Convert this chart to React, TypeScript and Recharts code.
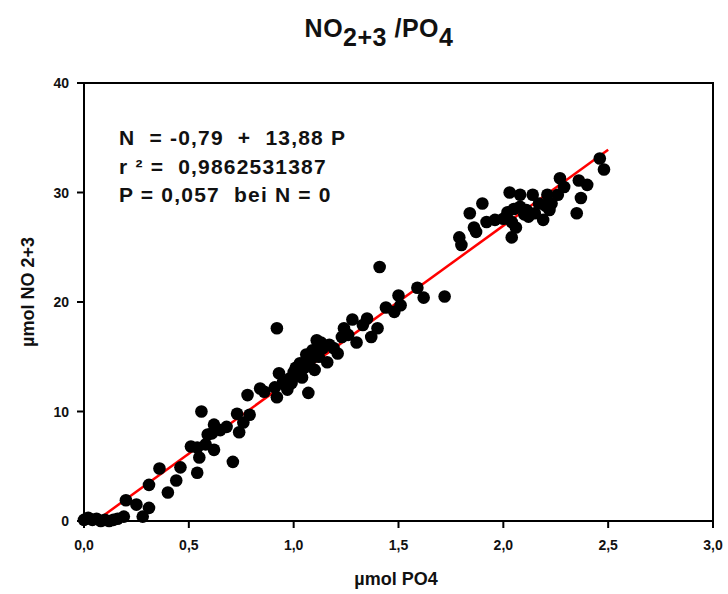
import {
  ReferenceArea,
  ReferenceLine,
  Scatter,
  ScatterChart,
  XAxis,
  YAxis,
} from "recharts"

// µmol PO4 / µmol NO2+3
const po4 = [
  0.0, 0.02, 0.04, 0.06, 0.08, 0.1, 0.12, 0.14, 0.16, 0.19, 0.2, 0.25, 0.28,
  0.31, 0.31, 0.36, 0.4, 0.44, 0.46, 0.51, 0.54, 0.54, 0.55, 0.56, 0.59, 0.61,
  0.62, 0.62, 0.68, 0.71, 0.73, 0.74, 0.76, 0.78, 0.79, 0.84, 0.86, 0.91, 0.92,
  0.92, 0.93, 0.95, 0.96, 0.97, 0.98, 1.0, 1.02, 1.03, 1.04, 1.05, 1.07, 1.08,
  1.09, 1.1, 1.11, 1.12, 1.14, 1.16, 1.17, 1.21, 1.23, 1.24, 1.28, 1.3, 1.35,
  1.37, 1.4, 1.41, 1.44, 1.48, 1.5, 1.51, 1.59, 1.62, 1.72, 1.79, 1.8, 1.84,
  1.86, 1.87, 1.9, 1.92, 1.96, 2.02, 2.03, 2.04, 2.04, 2.06, 2.08, 2.08, 2.11,
  2.14, 2.15, 2.17, 2.19, 2.21, 2.22, 2.26, 2.27, 2.29, 2.35, 2.36, 2.37, 2.4,
  2.46, 2.48, 1.06, 1.13, 1.01, 0.99, 1.19, 1.26, 1.33, 0.65, 0.58, 2.1, 2.12,
  2.2, 2.0, 2.23, 2.05,
]
const no23 = [
  0.1, 0.3, 0.1, 0.2, 0.0, 0.1, 0.0, 0.1, 0.2, 0.4, 1.9, 1.5, 0.4, 1.2, 3.3,
  4.8, 2.6, 3.7, 4.9, 6.8, 6.7, 4.4, 5.8, 10.0, 7.9, 8.0, 6.5, 8.8, 8.6, 5.4,
  9.8, 8.1, 9.0, 11.5, 9.7, 12.1, 11.8, 12.2, 11.3, 17.6, 13.5, 12.7, 12.4,
  12.0, 13.0, 13.6, 13.3, 14.4, 13.1, 14.0, 11.7, 14.7, 15.6, 13.8, 16.5, 15.0,
  15.8, 14.5, 16.1, 15.3, 16.8, 17.6, 18.4, 16.3, 18.5, 16.8, 17.6, 23.2, 19.5,
  19.1, 20.6, 19.7, 21.3, 20.4, 20.5, 25.9, 25.2, 28.1, 26.8, 26.4, 29.0, 27.3,
  27.5, 28.2, 30.0, 27.3, 25.9, 26.8, 29.8, 28.7, 28.4, 29.8, 28.1, 29.0, 27.5,
  29.8, 28.4, 29.8, 31.3, 30.5, 28.1, 31.1, 29.5, 30.7, 33.1, 32.1, 15.2, 16.3,
  14.0, 12.6, 15.8, 17.0, 17.9, 8.3, 7.0, 28.0, 27.8, 28.8, 27.6, 29.0, 28.5,
]
const xTicks = [0, 0.5, 1, 1.5, 2, 2.5, 3]
const yTicks = [0, 10, 20, 30, 40]

// regression N = a + b * P
const intercept = -0.79
const slope = 13.88
const lineStart = 0.057
const lineEnd = 2.5

const equationLines = [
  "N  = -0,79  +  13,88 P",
  "r ² =  0,9862531387",
  "P = 0,057  bei N = 0",
]

const points = po4.map((p, i) => ({ p, n: no23[i] }))

const font = "'Liberation Sans', Arial, sans-serif"
const comma = (v: number) => v.toFixed(1).replace(".", ",")

const XTick = (props: any) => (
  <text x={props.x} y={props.y + 20} textAnchor="middle" fontSize={14} fontWeight={700} fill="#111" fontFamily={font}>
    {comma(props.payload.value)}
  </text>
)
const YTick = (props: any) => (
  <text x={props.x - 6} y={props.y + 5} textAnchor="end" fontSize={14} fontWeight={700} fill="#111" fontFamily={font}>
    {props.payload.value}
  </text>
)

const Dot = (props: any) => <circle cx={props.cx} cy={props.cy} r={6.3} fill="#000" />

export default function App() {
  return (
    <div style={{ position: "absolute", left: 0, top: 0, width: 728, height: 594, background: "#fff", fontFamily: font }}>
      <div style={{ position: "absolute", left: 0, width: 758, top: 14, textAlign: "center", fontSize: 25, fontWeight: 700, color: "#111", letterSpacing: 0.5 }}>
        NO<span style={{ position: "relative", top: 9 }}>2+3</span> /PO<span style={{ position: "relative", top: 9 }}>4</span>
      </div>
      <ScatterChart width={728} height={594} margin={{ top: 83, right: 15, bottom: 43, left: 24 }}>
        <XAxis
          type="number"
          dataKey="p"
          domain={[0, 3]}
          ticks={xTicks}
          tick={XTick}
          height={30}
          tickSize={7}
          axisLine={{ stroke: "#000", strokeWidth: 2 }}
          tickLine={{ stroke: "#000", strokeWidth: 2 }}
        />
        <YAxis
          type="number"
          dataKey="n"
          domain={[0, 40]}
          ticks={yTicks}
          tick={YTick}
          width={60}
          tickSize={7}
          axisLine={{ stroke: "#000", strokeWidth: 2 }}
          tickLine={{ stroke: "#000", strokeWidth: 2 }}
        />
        <ReferenceArea x1={0} x2={3} y1={0} y2={40} fill="none" stroke="#000" strokeWidth={2} />
        <Scatter data={points} shape={Dot} isAnimationActive={false} />
        <ReferenceLine
          segment={[
            { x: lineStart, y: intercept + slope * lineStart },
            { x: lineEnd, y: intercept + slope * lineEnd },
          ]}
          stroke="#f00"
          strokeWidth={2.5}
        />
      </ScatterChart>
      {equationLines.map((t, i) => (
        <div key={i} style={{ position: "absolute", left: 119, top: 126 + i * 28.5, fontSize: 21, fontWeight: 700, color: "#111", whiteSpace: "pre", letterSpacing: 1.2 }}>
          {t}
        </div>
      ))}
      <div style={{ position: "absolute", left: 0, width: 792, top: 569, textAlign: "center", fontSize: 18, fontWeight: 700, color: "#111" }}>
        µmol PO4
      </div>
      <div style={{ position: "absolute", left: 28, top: 292, transform: "translate(-50%, -50%) rotate(-90deg)", fontSize: 18, fontWeight: 700, color: "#111", whiteSpace: "nowrap" }}>
        µmol NO 2+3
      </div>
    </div>
  )
}
